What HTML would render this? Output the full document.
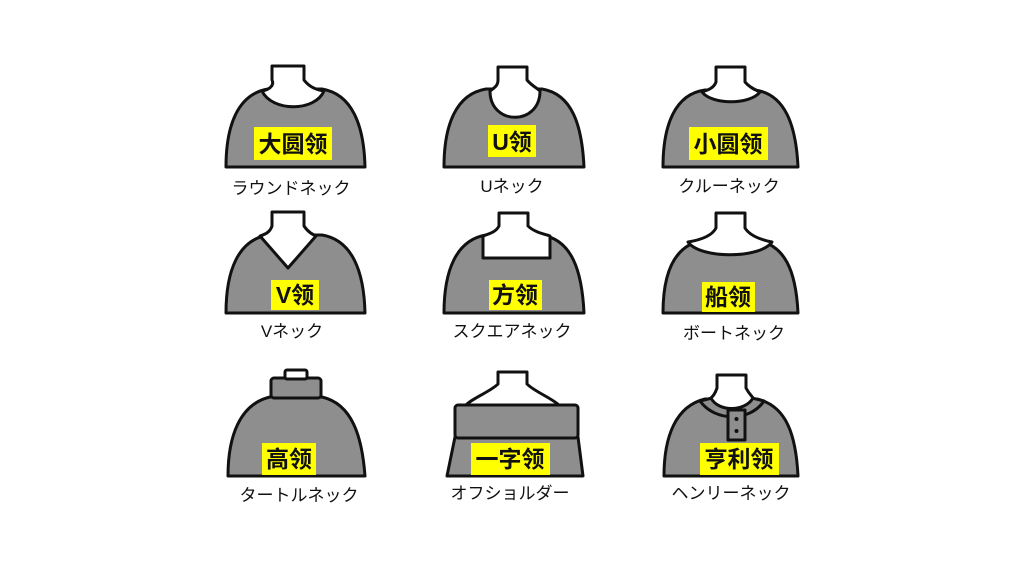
<!DOCTYPE html>
<html><head><meta charset="utf-8"><style>
body{margin:0;background:#fff}
svg{display:block}
.b{fill:#8e8e8e;stroke:#111;stroke-width:3;stroke-linejoin:round}
.w{fill:#fff;stroke:#111;stroke-width:3;stroke-linejoin:round}
.l{font-family:"Liberation Sans","Noto Sans CJK SC",sans-serif;font-size:23px;fill:#111;font-weight:bold}
.c{font-family:"Liberation Sans","Noto Sans CJK JP",sans-serif;font-size:17px;fill:#111}
</style></head><body>
<svg width="1024" height="576" viewBox="0 0 1024 576">
<!-- Row 1 col1 -->
<path class="b" d="M226 167 C226 125 238 94 268 89 L322 89 C352 94 364 125 365 167 Z"/>
<path class="w" d="M272 66 L304 66 L304 80 C310 88 318 90 324 91 C315 112 272 112 262 91 C268 90 275 86 272 80 Z"/>
<!-- Row1 col2 -->
<path class="b" d="M444 167 C444 125 456 94 486 89 L542 89 C572 94 582 125 584 167 Z"/>
<path class="w" d="M498 67 L527 67 L527 80 C532 86 537 88 540 91 C540 126 490 126 490 91 C494 88 498 86 498 80 Z"/>
<!-- Row1 col3 -->
<path class="b" d="M663 167 C663 125 675 94 705 90 L755 90 C785 94 796 125 798 167 Z"/>
<path class="w" d="M716 67 L745 67 L745 82 C750 88 756 90 760 92 C750 105 712 105 702 92 C708 90 714 88 716 82 Z"/>
<!-- Row2 col1 V -->
<path class="b" d="M226 313 C226 271 238 240 268 235 L322 235 C352 240 364 271 365 313 Z"/>
<path class="w" d="M272 212 L304 212 L304 226 C308 232 312 234 316 236 L288 268 L260 236 C266 234 270 232 272 226 Z"/>
<!-- Row2 col2 square -->
<path class="b" d="M444 313 C444 271 456 240 486 235 L542 235 C572 240 582 271 584 313 Z"/>
<path class="w" d="M499 213 L528 213 L528 226 C534 232 544 234 550 236 L550 258 L483 258 L483 236 C489 234 496 232 499 226 Z"/>
<!-- Row2 col3 boat -->
<path class="b" d="M663 313 C663 271 675 244 705 240 L755 240 C785 244 796 271 798 313 Z"/>
<path class="w" d="M716 213 L745 213 L745 228 C750 236 762 240 772 242 C760 259 700 259 688 242 C700 240 712 236 716 228 Z"/>
<!-- Row3 col1 turtleneck -->
<path class="b" d="M228 476 C228 436 240 404 270 397 L322 397 C352 404 362 436 365 476 Z"/>
<rect class="b" x="271" y="378" width="50" height="20" rx="3"/>
<rect class="w" x="285" y="370" width="22" height="9" rx="2"/>
<!-- Row3 col2 off-shoulder -->
<path class="b" d="M447 476 L455 437 L578 437 L583 476 Z"/>
<path class="w" d="M498 372 L527 372 L527 384 C535 392 552 398 560 406 L465 406 C472 398 490 392 498 384 Z"/>
<rect class="b" x="455" y="405" width="123" height="33" rx="3"/>
<!-- Row3 col3 henley -->
<path class="b" d="M664 476 C664 436 676 406 705 399 L757 399 C787 406 796 436 798 476 Z"/>
<path class="b" d="M700 401 C715 422 750 422 764 401 L752 398 C745 411 718 411 712 398 Z"/>
<path class="w" d="M717 375 L746 375 L746 388 C749 394 752 396 753 398 C745 412 718 412 711 398 C713 396 715 394 717 388 Z"/>
<rect class="b" x="728" y="410" width="17" height="30"/>
<circle cx="736.5" cy="419" r="2" fill="#111"/><circle cx="736.5" cy="431" r="2" fill="#111"/>
<!-- labels -->
<rect x="254" y="127" width="78" height="33" fill="#ffff00"/><text class="l" x="293" y="152" text-anchor="middle">大圆领</text>
<rect x="488" y="125" width="48" height="32" fill="#ffff00"/><text class="l" x="512" y="150" text-anchor="middle">U领</text>
<rect x="689" y="127" width="79" height="33" fill="#ffff00"/><text class="l" x="728" y="152" text-anchor="middle">小圆领</text>
<rect x="271" y="280" width="48" height="30" fill="#ffff00"/><text class="l" x="295" y="303" text-anchor="middle">V领</text>
<rect x="489" y="280" width="53" height="30" fill="#ffff00"/><text class="l" x="515" y="303" text-anchor="middle">方领</text>
<rect x="702" y="282" width="53" height="30" fill="#ffff00"/><text class="l" x="728" y="305" text-anchor="middle">船领</text>
<rect x="262" y="443" width="54" height="32" fill="#ffff00"/><text class="l" x="289" y="467" text-anchor="middle">高领</text>
<rect x="471" y="443" width="79" height="32" fill="#ffff00"/><text class="l" x="510" y="467" text-anchor="middle">一字领</text>
<rect x="700" y="443" width="79" height="32" fill="#ffff00"/><text class="l" x="739" y="467" text-anchor="middle">亨利领</text>
<!-- captions -->
<text class="c" x="291" y="194" text-anchor="middle">ラウンドネック</text>
<text class="c" x="512" y="192" text-anchor="middle">Uネック</text>
<text class="c" x="729" y="192" text-anchor="middle">クルーネック</text>
<text class="c" x="292" y="337" text-anchor="middle">Vネック</text>
<text class="c" x="512" y="337" text-anchor="middle">スクエアネック</text>
<text class="c" x="734" y="339" text-anchor="middle">ボートネック</text>
<text class="c" x="299" y="501" text-anchor="middle">タートルネック</text>
<text class="c" x="510" y="499" text-anchor="middle">オフショルダー</text>
<text class="c" x="731" y="499" text-anchor="middle">ヘンリーネック</text>
</svg>
</body></html>
